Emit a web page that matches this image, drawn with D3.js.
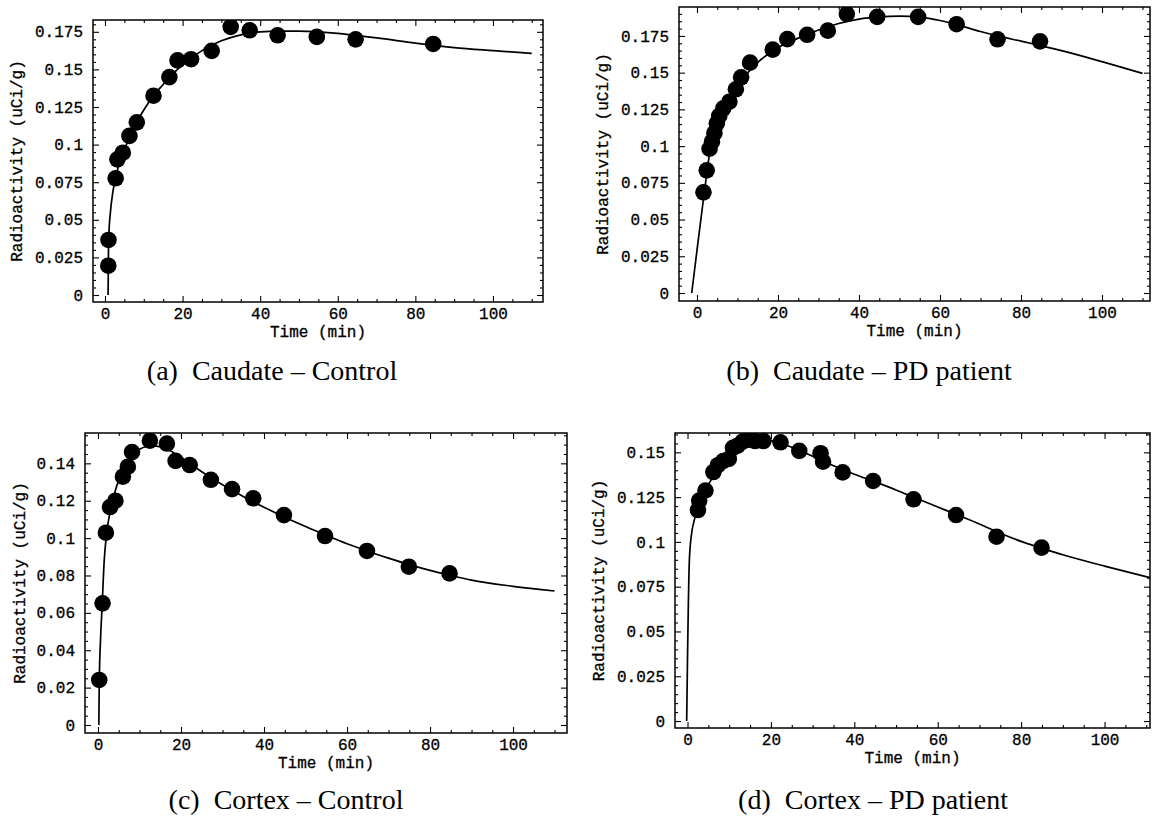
<!DOCTYPE html>
<html>
<head>
<meta charset="utf-8">
<script src="https://cdn.jsdelivr.net/npm/d3@7"></script>
<style>
  body { margin: 0; background: #fff; }
  svg { display: block; }
  .tick text { font-family: "Liberation Mono", "DejaVu Sans Mono", monospace; font-size: 16px; fill: #000; stroke: #000; stroke-width: 0.3px; }
  .tick line { stroke: #000; }
  .mono { font-family: "Liberation Mono", "DejaVu Sans Mono", monospace; font-size: 16px; stroke: #000; stroke-width: 0.3px; }
  .caption { font-family: "Liberation Serif", serif; font-size: 28px; }
</style>
</head>
<body>
<svg id="chart" width="1152" height="817"></svg>
<script>
// shared x axis ticks (minutes)
var xTickValues = [0, 20, 40, 60, 80, 100];
var xTickLabels = ["0", "20", "40", "60", "80", "100"];

// y ticks
var caudateTickValues = [0, 0.025, 0.05, 0.075, 0.1, 0.125, 0.15, 0.175];
var caudateTickLabels = ["0", "0.025", "0.05", "0.075", "0.1", "0.125", "0.15", "0.175"];
var cortexCtlTickValues = [0, 0.02, 0.04, 0.06, 0.08, 0.1, 0.12, 0.14];
var cortexCtlTickLabels = ["0", "0.02", "0.04", "0.06", "0.08", "0.1", "0.12", "0.14"];
var cortexPdTickValues = [0, 0.025, 0.05, 0.075, 0.1, 0.125, 0.15];
var cortexPdTickLabels = ["0", "0.025", "0.05", "0.075", "0.1", "0.125", "0.15"];

// (a) caudate - control : measured points
var caudateCtlTime  = [0.85, 0.9, 2.75, 3.2, 4.6, 6.3, 8.2, 12.5, 16.6, 18.7, 22.2, 27.5, 32.4, 37.3, 44.5, 54.6, 64.6, 84.6];
var caudateCtlValue = [0.0195, 0.0366, 0.0776, 0.0902, 0.0946, 0.1058, 0.1148, 0.1325, 0.1449, 0.1560, 0.1568, 0.1623, 0.1783, 0.1760, 0.1727, 0.1716, 0.1700, 0.1669];
// (a) fitted curve
var caudateCtlFitTime  = [0.8, 0.9, 1.0, 1.4, 2, 2.75, 3.5, 4.5, 6, 8, 10, 12.5, 15, 17.5, 20, 25, 30, 35, 40, 45, 50, 55, 60, 65, 70, 80, 90, 100, 110];
var caudateCtlFitValue = [0, 0.03, 0.04, 0.055, 0.068, 0.078, 0.086, 0.093, 0.103, 0.114, 0.123, 0.1325, 0.140, 0.147, 0.153, 0.1625, 0.169, 0.173, 0.175, 0.1755, 0.1755, 0.175, 0.174, 0.1725, 0.171, 0.1675, 0.1645, 0.1625, 0.1607];

// (b) caudate - PD patient
var caudatePdTime  = [1.6, 2.4, 3.1, 3.7, 4.3, 4.9, 5.5, 6.5, 8.0, 9.6, 10.9, 13.1, 18.7, 22.3, 27.2, 32.3, 37.0, 44.5, 54.6, 64.1, 74.2, 84.7];
var caudatePdValue = [0.0685, 0.0835, 0.0982, 0.1030, 0.1088, 0.1155, 0.1205, 0.1257, 0.1302, 0.1387, 0.1468, 0.1568, 0.1657, 0.1728, 0.1758, 0.1786, 0.1899, 0.1880, 0.1880, 0.1830, 0.1727, 0.1713];
var caudatePdFitTime  = [-1.3, 0, 1, 1.6, 2.4, 3, 4, 5, 6, 8, 10, 12, 15, 20, 25, 30, 35, 40, 45, 50, 55, 60, 65, 70, 75, 80, 85, 90, 100, 110];
var caudatePdFitValue = [0, 0.029, 0.051, 0.064, 0.081, 0.093, 0.105, 0.114, 0.121, 0.131, 0.140, 0.148, 0.157, 0.167, 0.1735, 0.179, 0.1835, 0.1865, 0.188, 0.1885, 0.1878, 0.1855, 0.182, 0.178, 0.1745, 0.1715, 0.1683, 0.165, 0.1575, 0.1495];

// (c) cortex - control
var cortexCtlTime  = [0.3, 1.1, 1.9, 2.9, 4.2, 6.0, 7.2, 8.2, 12.5, 16.6, 18.7, 22.1, 27.2, 32.3, 37.4, 44.8, 54.7, 64.8, 74.9, 84.7];
var cortexCtlValue = [0.0241, 0.0651, 0.1029, 0.1166, 0.1200, 0.1329, 0.1382, 0.1460, 0.1521, 0.1506, 0.1413, 0.1391, 0.1312, 0.1262, 0.1213, 0.1123, 0.1011, 0.0931, 0.0847, 0.0811];
var cortexCtlFitTime  = [0.2, 0.3, 0.6, 1, 1.5, 2, 3, 4, 5, 6, 8, 10, 12, 14, 16, 18, 20, 25, 30, 35, 40, 45, 50, 55, 60, 65, 70, 75, 80, 85, 90, 100, 110];
var cortexCtlFitValue = [0, 0.022, 0.045, 0.064, 0.088, 0.101, 0.115, 0.124, 0.131, 0.136, 0.1435, 0.1475, 0.149, 0.1492, 0.1482, 0.146, 0.1432, 0.1355, 0.1285, 0.1222, 0.1165, 0.1112, 0.1062, 0.1015, 0.097, 0.093, 0.0893, 0.0858, 0.0827, 0.080, 0.0775, 0.0742, 0.0717];

// (d) cortex - PD patient
var cortexPdTime  = [2.5, 2.8, 4.3, 6.2, 7.3, 8.6, 9.9, 10.9, 12.0, 13.2, 14.6, 16.2, 18.2, 22.3, 26.8, 31.9, 32.5, 37.2, 44.5, 54.2, 64.4, 74.1, 84.9];
var cortexPdValue = [0.1178, 0.1231, 0.1287, 0.1390, 0.1428, 0.1452, 0.1463, 0.1525, 0.1537, 0.1560, 0.1570, 0.1563, 0.1563, 0.1556, 0.1508, 0.1495, 0.1448, 0.1388, 0.1340, 0.1238, 0.1150, 0.1029, 0.0968];
var cortexPdFitTime  = [-0.2, 0, 0.2, 0.45, 1, 1.5, 2, 2.5, 3, 4.5, 6, 8, 10, 12, 14, 16, 18, 20, 22, 25, 30, 35, 40, 45, 50, 55, 60, 65, 70, 75, 80, 85, 90, 100, 110.9];
var cortexPdFitValue = [0, 0.035, 0.065, 0.09, 0.105, 0.111, 0.1155, 0.119, 0.122, 0.1295, 0.136, 0.1425, 0.1475, 0.1515, 0.1545, 0.156, 0.1567, 0.1565, 0.1555, 0.1528, 0.1478, 0.1425, 0.1378, 0.1335, 0.129, 0.1242, 0.1195, 0.1148, 0.110, 0.1048, 0.1003, 0.0965, 0.0928, 0.0865, 0.080];

// layout of the four frames (pixels) and their plot ranges
var panels = [
  { id: "a", time: caudateCtlTime, value: caudateCtlValue, fitTime: caudateCtlFitTime, fitValue: caudateCtlFitValue,
    yTicks: caudateTickValues, yLabels: caudateTickLabels, yMinor: 0.005,
    left: 93, right: 543, top: 20, bottom: 302, xDomain: [-3.09, 112.9], yDomain: [-0.00465, 0.18285],
    caption: "(a)\u2002Caudate \u2013 Control", capX: 272, capY: 380, titleOff: 75 },
  { id: "b", time: caudatePdTime, value: caudatePdValue, fitTime: caudatePdFitTime, fitValue: caudatePdFitValue,
    yTicks: caudateTickValues, yLabels: caudateTickLabels, yMinor: 0.005,
    left: 679, right: 1150, top: 7, bottom: 301, xDomain: [-4.44, 111.85], yDomain: [-0.00545, 0.1947],
    caption: "(b)\u2002Caudate \u2013 PD patient", capX: 869, capY: 380, titleOff: 75 },
  { id: "c", time: cortexCtlTime, value: cortexCtlValue, fitTime: cortexCtlFitTime, fitValue: cortexCtlFitValue,
    yTicks: cortexCtlTickValues, yLabels: cortexCtlTickLabels, yMinor: 0.005,
    left: 85, right: 567, top: 433, bottom: 733, xDomain: [-3.13, 113.0], yDomain: [-0.00428, 0.15623],
    caption: "(c)\u2002Cortex \u2013 Control", capX: 286, capY: 809, titleOff: 64 },
  { id: "d", time: cortexPdTime, value: cortexPdValue, fitTime: cortexPdFitTime, fitValue: cortexPdFitValue,
    yTicks: cortexPdTickValues, yLabels: cortexPdTickLabels, yMinor: 0.005,
    left: 675, right: 1150, top: 433, bottom: 728, xDomain: [-3.0, 110.9], yDomain: [-0.0039, 0.1608],
    caption: "(d)\u2002Cortex \u2013 PD patient", capX: 873, capY: 809, titleOff: 75 }
];

var svg = d3.select("#chart");

panels.forEach(drawPanel);

function drawPanel(p) {
  var x = d3.scaleLinear().domain(p.xDomain).range([p.left, p.right]);
  var y = d3.scaleLinear().domain(p.yDomain).range([p.bottom, p.top]);
  var g = svg.append("g");

  svg.append("clipPath").attr("id", "clip-" + p.id)
    .append("rect")
    .attr("x", p.left).attr("y", p.top)
    .attr("width", p.right - p.left).attr("height", p.bottom - p.top);

  // minor ticks
  var xMinor = d3.range(0, p.xDomain[1], 5).filter(function(d) { return d % 20 !== 0; });
  var yMax = p.yTicks[p.yTicks.length - 1] + p.yMinor * 4;
  var yMinor = d3.range(0, yMax, p.yMinor).filter(function(d) {
    return d <= p.yDomain[1] && !p.yTicks.some(function(t) { return Math.abs(t - d) < 1e-6; });
  });

  function noLabel() { return ""; }

  g.append("g").attr("transform", "translate(0," + p.bottom + ")")
    .call(d3.axisBottom(x).tickValues(xMinor).tickSize(-3).tickFormat(noLabel));
  g.append("g").attr("transform", "translate(0," + p.top + ")")
    .call(d3.axisTop(x).tickValues(xMinor).tickSize(-3).tickFormat(noLabel));
  g.append("g").attr("transform", "translate(" + p.left + ",0)")
    .call(d3.axisLeft(y).tickValues(yMinor).tickSize(-3).tickFormat(noLabel));
  g.append("g").attr("transform", "translate(" + p.right + ",0)")
    .call(d3.axisRight(y).tickValues(yMinor).tickSize(-3).tickFormat(noLabel));

  // major ticks, labelled on bottom and left
  g.append("g").attr("transform", "translate(0," + p.bottom + ")")
    .call(d3.axisBottom(x).tickValues(xTickValues).tickSize(-6).tickPadding(6)
      .tickFormat(function(d, i) { return xTickLabels[i]; }));
  g.append("g").attr("transform", "translate(0," + p.top + ")")
    .call(d3.axisTop(x).tickValues(xTickValues).tickSize(-6).tickFormat(noLabel));
  g.append("g").attr("transform", "translate(" + p.left + ",0)")
    .call(d3.axisLeft(y).tickValues(p.yTicks).tickSize(-6).tickPadding(10)
      .tickFormat(function(d, i) { return p.yLabels[i]; }));
  g.append("g").attr("transform", "translate(" + p.right + ",0)")
    .call(d3.axisRight(y).tickValues(p.yTicks).tickSize(-6).tickFormat(noLabel));

  g.selectAll(".domain").remove();
  g.selectAll(".tick line").attr("stroke-width", 1.1);

  // frame
  g.append("rect")
    .attr("x", p.left).attr("y", p.top)
    .attr("width", p.right - p.left).attr("height", p.bottom - p.top)
    .attr("fill", "none").attr("stroke", "#000").attr("stroke-width", 1.5);

  var plot = g.append("g").attr("clip-path", "url(#clip-" + p.id + ")");

  // fitted model curve
  var fit = p.fitTime.map(function(t, i) { return { t: t, v: p.fitValue[i] }; });
  var line = d3.line()
    .x(function(d) { return x(d.t); })
    .y(function(d) { return y(d.v); })
    .curve(d3.curveMonotoneX);
  plot.append("path")
    .datum(fit)
    .attr("fill", "none")
    .attr("stroke", "#000")
    .attr("stroke-width", 1.7)
    .attr("stroke-linejoin", "round")
    .attr("d", line);

  // measured points
  var pts = p.time.map(function(t, i) { return { t: t, v: p.value[i] }; });
  plot.selectAll("circle.pt")
    .data(pts)
    .enter().append("circle")
    .attr("class", "pt")
    .attr("cx", function(d) { return x(d.t); })
    .attr("cy", function(d) { return y(d.v); })
    .attr("r", 8.3)
    .attr("fill", "#000");

  // axis titles
  g.append("text")
    .attr("class", "mono")
    .attr("text-anchor", "middle")
    .attr("x", (p.left + p.right) / 2)
    .attr("y", p.bottom + 35)
    .text("Time (min)");

  g.append("text")
    .attr("class", "mono")
    .attr("text-anchor", "middle")
    .attr("dominant-baseline", "central")
    .attr("transform", "translate(" + (p.left - p.titleOff) + "," + ((p.top + p.bottom) / 2) + ") rotate(-90)")
    .text("Radioactivity (uCi/g)");

  // sub-figure caption
  svg.append("text")
    .attr("class", "caption")
    .attr("text-anchor", "middle")
    .attr("x", p.capX)
    .attr("y", p.capY)
    .text(p.caption);
}
</script>
</body>
</html>
